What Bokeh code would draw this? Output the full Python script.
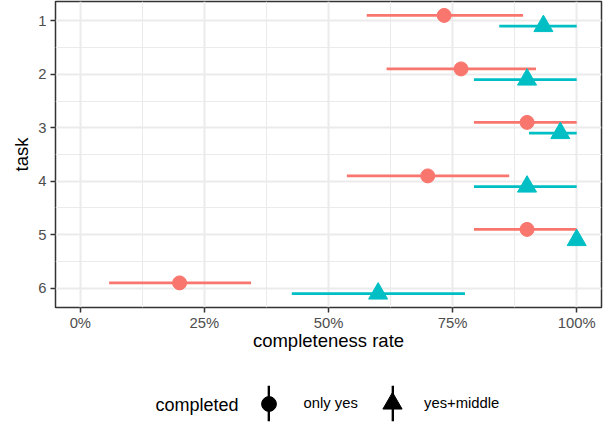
import numpy as np
from bokeh.plotting import figure
from bokeh.layouts import column
from bokeh.models import (Range1d, FixedTicker, NumeralTickFormatter, Legend, LegendItem,
                          Label, ColumnDataSource, GlobalInlineStyleSheet)
from bokeh.embed import file_html
from bokeh.resources import INLINE

# ---- data ----
tasks = [1, 2, 3, 4, 5, 6]
only_yes_rate = [0.733, 0.767, 0.900, 0.700, 0.900, 0.200]
only_yes_lo = [0.577, 0.617, 0.793, 0.537, 0.793, 0.058]
only_yes_hi = [0.892, 0.918, 1.000, 0.864, 1.000, 0.344]
yes_middle_rate = [0.933, 0.900, 0.967, 0.900, 1.000, 0.600]
yes_middle_lo = [0.844, 0.793, 0.904, 0.793, 1.000, 0.426]
yes_middle_hi = [1.000, 1.000, 1.000, 1.000, 1.000, 0.775]
group_names = ["only yes", "yes+middle"]
legend_title = "completed"
x_ticks = [0, 0.25, 0.5, 0.75, 1.0]
x_minor = [0.125, 0.375, 0.625, 0.875]
y_minor = [1.5, 2.5, 3.5, 4.5, 5.5]

FONT = "Liberation Sans"
RED = "#F8766D"
CYAN = "#00BFC4"
DODGE = 0.1
W = 607
H_MAIN = 365
H_LEG = 60
LEFT = 55  # frame left edge (the legend strip's frame is aligned to it)

p = figure(width=W, height=H_MAIN, output_backend="svg", toolbar_location=None,
           x_range=Range1d(-0.05, 1.05), y_range=Range1d(6.36, 0.64),
           min_border_left=LEFT, min_border_right=6, min_border_top=1, min_border_bottom=58,
           background_fill_color="white", border_fill_color="white")
p.stylesheets = [GlobalInlineStyleSheet(css="body { margin: 0; }")]

p.outline_line_color = "#333333"
p.outline_line_width = 1.5

p.xaxis.ticker = FixedTicker(ticks=x_ticks, minor_ticks=x_minor)
p.yaxis.ticker = FixedTicker(ticks=tasks, minor_ticks=y_minor)
p.xaxis.formatter = NumeralTickFormatter(format="0%")

for g in (p.xgrid, p.ygrid):
    g.grid_line_color = "#EBEBEB"
    g.grid_line_width = 2
    g.minor_grid_line_color = "#EBEBEB"
    g.minor_grid_line_width = 1

for ax in (p.xaxis, p.yaxis):
    ax.axis_line_color = None
    ax.major_tick_line_color = "#333333"
    ax.major_tick_line_width = 1.5
    ax.major_tick_out = 5
    ax.major_tick_in = 0
    ax.minor_tick_line_color = None
    ax.major_label_text_font = FONT
    ax.major_label_text_font_size = "14.8px"
    ax.major_label_text_color = "#4D4D4D"
    ax.axis_label_text_font = FONT
    ax.axis_label_text_font_size = "18.5px"
    ax.axis_label_text_font_style = "normal"
    ax.axis_label_text_color = "black"

p.xaxis.axis_label = "completeness rate"
p.yaxis.axis_label = "task"
p.xaxis.major_label_standoff = 2
p.xaxis.axis_label_standoff = -4
p.yaxis.major_label_standoff = 4
p.yaxis.axis_label_standoff = 3

series = [
    (only_yes_rate, only_yes_lo, only_yes_hi, RED, "circle", 14, -DODGE),
    (yes_middle_rate, yes_middle_lo, yes_middle_hi, CYAN, "triangle", 19, DODGE),
]
for rate, lo, hi, col, mk, sz, off in series:
    src = ColumnDataSource(dict(y=[t + off for t in tasks], rate=rate, lo=lo, hi=hi))
    p.segment(x0="lo", x1="hi", y0="y", y1="y", line_color=col, line_width=2.7, source=src)
    p.scatter(x="rate", y="y", marker=mk, size=sz, fill_color=col, line_color=col, source=src)

# ---- legend strip below the plot ----
leg = figure(width=W, height=H_LEG, output_backend="svg", toolbar_location=None,
             x_range=Range1d(0, W), y_range=Range1d(0, H_LEG),
             x_axis_location=None, y_axis_location=None,
             min_border=0, min_border_left=0, min_border_right=0,
             min_border_top=0, min_border_bottom=0,
             background_fill_color="white", border_fill_color="white")
leg.outline_line_color = None
leg.grid.visible = False

common = dict(orientation="horizontal", padding=0, margin=0, border_line_alpha=0,
              background_fill_alpha=0, label_text_font=FONT, label_text_font_size="14.8px",
              label_text_color="black")

# key settings: (marker, key centre x on the page, key box size, label standoff)
key_specs = [("circle", 268, 37, 17), ("triangle", 392, 48, 8)]
KEY_CY = 22  # key centre, px above the strip bottom

# vertical lines of the keys (drawn first, underneath the markers)
for name, (mk, cx, box, stand) in zip(group_names, key_specs):
    vb = leg.vbar(x=[np.nan], top=[np.nan], width=1, fill_color="black",
                  line_color="black", line_width=0.3)
    lg = Legend(items=[LegendItem(label="", renderers=[vb])],
                location=(cx - LEFT - 1.5, KEY_CY - 22),
                glyph_width=3, glyph_height=44, label_standoff=0, label_width=0,
                **common)
    leg.add_layout(lg, "center")

# markers + labels
for name, (mk, cx, box, stand) in zip(group_names, key_specs):
    sc = leg.scatter(x=[np.nan], y=[np.nan], marker=mk, size=10,
                     fill_color="black", line_color="black")
    lg = Legend(items=[LegendItem(label=name, renderers=[sc])],
                location=(cx - LEFT - box / 2, KEY_CY - box / 2),
                glyph_width=box, glyph_height=box, label_standoff=stand, **common)
    leg.add_layout(lg, "center")

leg.add_layout(Label(x=155 - LEFT, y=KEY_CY - 1, x_units="screen", y_units="screen",
                     text=legend_title, text_font=FONT, text_font_size="18px",
                     text_color="black", text_baseline="middle"))

layout = column(p, leg, spacing=0)
open("out.html", "w").write(file_html(layout, INLINE))
